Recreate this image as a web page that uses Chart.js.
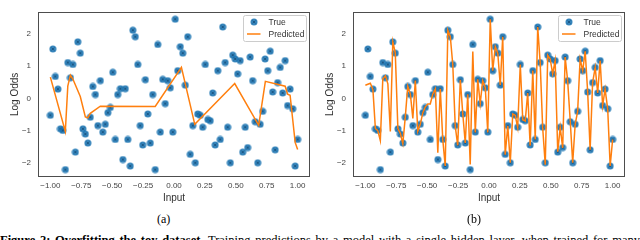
<!DOCTYPE html>
<html>
<head>
<meta charset="utf-8">
<script src="https://cdn.jsdelivr.net/npm/chart.js@4.4.1/dist/chart.umd.min.js"></script>
<style>
    html, body { margin: 0; padding: 0; background: #fff; }
    body { width: 640px; height: 240px; position: relative; overflow: hidden; }
    .panel { position: absolute; top: 0; width: 320px; height: 205px; }
    #panelA { left: 0; }
    #panelB { left: 315px; }
    .sub { position: absolute; top: 212px; font-family: "Liberation Serif", serif; font-size: 12px; line-height: 14px; color: #000; }
    #caption { position: absolute; left: 0; top: 232px; width: 640px; font-family: "Liberation Serif", serif;
               font-size: 12.5px; line-height: 16px; text-align: justify; color: #000; }
</style>
</head>
<body>
<div class="panel" id="panelA"><canvas id="chartA" width="320" height="205"></canvas></div>
<div class="panel" id="panelB"><canvas id="chartB" width="320" height="205"></canvas></div>
<div class="sub" style="left:157px">(a)</div>
<div class="sub" style="left:467px">(b)</div>
<div id="caption"><b>Figure 2: Overfitting the toy dataset.</b> Training predictions by a model with a single hidden layer, when trained for many epochs on the toy dataset, compared with the true log odds.</div>
<script>
// Axes
const xTicks = [-1, -0.75, -0.5, -0.25, 0, 0.25, 0.5, 0.75, 1];
const yTicks = [-2, -1, 0, 1, 2];

// Toy dataset (inputs + true log odds)
const inputs = [
    -1.000, -0.980, -0.960, -0.939, -0.919, -0.899, -0.879, -0.859, -0.838, -0.818,
    -0.798, -0.778, -0.758, -0.737, -0.717, -0.697, -0.677, -0.657, -0.636, -0.616,
    -0.596, -0.576, -0.556, -0.535, -0.515, -0.495, -0.475, -0.455, -0.434, -0.414,
    -0.394, -0.374, -0.354, -0.333, -0.313, -0.293, -0.273, -0.253, -0.232, -0.212,
    -0.192, -0.172, -0.152, -0.131, -0.111, -0.091, -0.071, -0.051, -0.030, -0.010,
    0.010, 0.030, 0.051, 0.071, 0.091, 0.111, 0.131, 0.152, 0.172, 0.192,
    0.212, 0.232, 0.253, 0.273, 0.293, 0.313, 0.333, 0.354, 0.374, 0.394,
    0.414, 0.434, 0.455, 0.475, 0.495, 0.515, 0.535, 0.556, 0.576, 0.596,
    0.616, 0.636, 0.657, 0.677, 0.697, 0.717, 0.737, 0.758, 0.778, 0.798,
    0.818, 0.838, 0.859, 0.879, 0.899, 0.919, 0.939, 0.960, 0.980, 1.000
];
const trueOdds = [
    -0.52, 1.53, 0.68, 0.29, -0.94, -0.99, -2.20, 1.11, 0.64, 1.05,
    -1.66, 1.75, 1.40, -0.94, -1.10, -1.38, -0.58, 0.37, 0.12, -0.84,
    0.55, -1.04, -0.80, -0.44, -0.28, 0.81, -1.27, 0.12, 0.30, -1.89,
    0.30, -1.27, -2.09, 2.11, 1.91, 1.05, -0.84, -1.44, 0.58, -0.48,
    -1.38, 0.12, -2.20, 1.67, -1.04, 0.59, -0.16, 0.55, 0.33, -1.04,
    2.45, 0.86, 1.60, 1.40, 0.41, 1.91, -1.73, -0.84, -1.99, -0.48,
    -0.52, -0.89, 1.05, -0.65, -0.69, 0.17, -1.44, 0.86, -1.27, 2.21,
    1.11, -0.89, -1.99, 1.34, 1.22, 0.76, 1.17, -1.66, -0.89, -1.52,
    1.28, 0.55, -0.72, -1.99, -0.80, -0.40, 1.22, 0.86, 1.46, 0.20,
    -1.59, 0.49, 0.96, 0.17, 1.17, -0.22, 0.29, -0.32, -2.09, -1.27
];

// (a) prediction - corners of the piecewise-linear curve
const predAInput = [-1.000, -0.879, -0.859, -0.838, -0.818, -0.758, -0.717, -0.697, -0.677, -0.596,
                    -0.152, 0.060, 0.168, 0.491, 0.685, 0.739, 0.899, 0.919, 0.939, 0.980, 1.000];
const predAOdds  = [0.66, -1.02, 0.38, 0.72, 0.60, 0.06, -0.57, -0.60, -0.46, -0.24,
                    -0.25, 0.96, -0.80, 0.46, -0.83, 0.53, 0.38, 0.13, 0.10, -1.36, -1.58];

// (b) prediction at every input
const predBOdds = [
    0.41, 0.44, 0.47, 0.28, -0.93, -1.00, -1.30, 0.60, 0.70, 0.45,
    -1.02, 1.75, 1.41, -0.93, -1.08, -1.40, -0.57, 0.38, 0.13, -0.62,
    0.55, -1.02, -0.80, -0.44, -0.26, -0.17, -0.17, 0.13, 0.30, -1.68,
    0.30, -1.27, -2.09, 2.11, 1.91, 1.05, -0.86, -1.45, 0.58, -0.48,
    -1.38, 0.13, -2.04, 1.45, -1.05, 0.59, -0.16, 0.55, 0.33, -1.05,
    2.45, 0.86, 1.60, 1.40, 0.41, 1.91, -1.74, -0.85, -1.99, -0.48,
    -0.52, -0.90, 1.05, -0.66, -0.70, 0.17, -1.46, 0.86, -1.27, 2.21,
    1.10, -0.90, -2.05, 1.34, 1.22, 0.76, 1.17, -1.65, -0.90, -1.53,
    1.28, 0.55, -0.70, -1.99, -0.80, -0.40, 1.22, 0.86, 1.46, 0.20,
    -1.59, 0.49, 0.96, 0.17, 1.17, -0.22, 0.29, -0.32, -2.09, -1.27
];

const BLUE = 'rgba(31,119,180,0.9)';
const ORANGE = '#ff7f0e';
const SANS = '"Liberation Sans", Arial, sans-serif';

// marqueur "cercle + croix"
function makeMarker() {
    const c = document.createElement('canvas');
    c.width = 8; c.height = 8;
    const g = c.getContext('2d');
    g.fillStyle = BLUE;
    g.beginPath(); g.arc(4, 4, 3.5, 0, Math.PI * 2); g.fill();
    g.strokeStyle = '#164e7a'; g.lineWidth = 0.8;
    g.beginPath();
    g.moveTo(2.6, 2.6); g.lineTo(5.4, 5.4);
    g.moveTo(5.4, 2.6); g.lineTo(2.6, 5.4);
    g.stroke();
    return c;
}
const marker = makeMarker();

function minus(s) { return s.replace('-', '\u2212'); }

// frame around the plot + inset legend
const framePlugin = {
    id: 'frame',
    beforeDatasetsDraw(chart) {
        const { ctx, chartArea: a } = chart;
        ctx.save();
        ctx.strokeStyle = '#4d4d4d';
        ctx.lineWidth = 1;
        ctx.strokeRect(Math.round(a.left) + 0.5, Math.round(a.top) + 0.5,
                       Math.round(a.right - a.left) - 1, Math.round(a.bottom - a.top) - 1);
        ctx.restore();
    },
    afterDatasetsDraw(chart) {
        const { ctx, chartArea: a } = chart;
        const w = 63, h = 26;
        const left = Math.round(a.right - 4 - w) + 0.5, top = Math.round(a.top + 3) + 0.5;
        ctx.save();
        ctx.fillStyle = 'rgba(255,255,255,0.85)';
        ctx.strokeStyle = '#cccccc';
        ctx.lineWidth = 1;
        ctx.beginPath();
        ctx.roundRect(left, top, w, h, 2);
        ctx.fill(); ctx.stroke();
        // True
        ctx.drawImage(marker, left + 10.5 - 4, top + 6.5 - 4);
        // Predicted
        ctx.strokeStyle = ORANGE; ctx.lineWidth = 1.5;
        ctx.beginPath(); ctx.moveTo(left + 3.5, top + 18.5); ctx.lineTo(left + 17, top + 18.5); ctx.stroke();
        ctx.fillStyle = '#333';
        ctx.font = '8.5px ' + SANS;
        ctx.textBaseline = 'middle';
        ctx.fillText('True', left + 25, top + 7);
        ctx.fillText('Predicted', left + 25, top + 19);
        ctx.restore();
    }
};

function makeChart(id, predInput, predOdds) {
    const truePts = inputs.map((x, i) => ({ x: x, y: trueOdds[i] }));
    const predPts = predInput.map((x, i) => ({ x: x, y: predOdds[i] }));
    return new Chart(document.getElementById(id).getContext('2d'), {
        type: 'scatter',
        data: {
            datasets: [
                { label: 'True', data: truePts, pointStyle: marker, pointRadius: 3.5, order: 1 },
                { label: 'Predicted', data: predPts, showLine: true, borderColor: ORANGE, borderWidth: 1.5,
                  pointRadius: 0, tension: 0, order: 0 }
            ]
        },
        options: {
            responsive: false,
            animation: false,
            layout: { padding: { left: 0, right: 10, top: 1, bottom: 0 } },
            plugins: { legend: { display: false }, tooltip: { enabled: false } },
            scales: {
                x: {
                    type: 'linear', min: -1.1, max: 1.1,
                    grid: { display: false, drawTicks: false },
                    border: { display: false },
                    afterBuildTicks: s => { s.ticks = xTicks.map(v => ({ value: v })); },
                    afterFit: s => { s.height = 28; },
                    ticks: { autoSkip: false, maxRotation: 0, padding: 4, color: '#444',
                             font: { family: SANS, size: 8 },
                             callback: v => minus(Number(v).toFixed(2)) },
                    title: { display: true, text: 'Input', color: '#333',
                             font: { family: SANS, size: 10 }, padding: { top: 0, bottom: 1 } }
                },
                y: {
                    type: 'linear', min: -2.43, max: 2.68,
                    grid: { display: false, drawTicks: false },
                    border: { display: false },
                    afterBuildTicks: s => { s.ticks = yTicks.map(v => ({ value: v })); },
                    afterFit: s => { s.width = 38; },
                    ticks: { autoSkip: false, padding: 7, color: '#444',
                             font: { family: SANS, size: 8 },
                             callback: v => minus(String(v)) },
                    title: { display: true, text: 'Log Odds', color: '#333',
                             font: { family: SANS, size: 10 }, padding: { top: 9, bottom: 0 } }
                }
            }
        },
        plugins: [framePlugin]
    });
}

makeChart('chartA', predAInput, predAOdds);
makeChart('chartB', inputs, predBOdds);
</script>
</body>
</html>
